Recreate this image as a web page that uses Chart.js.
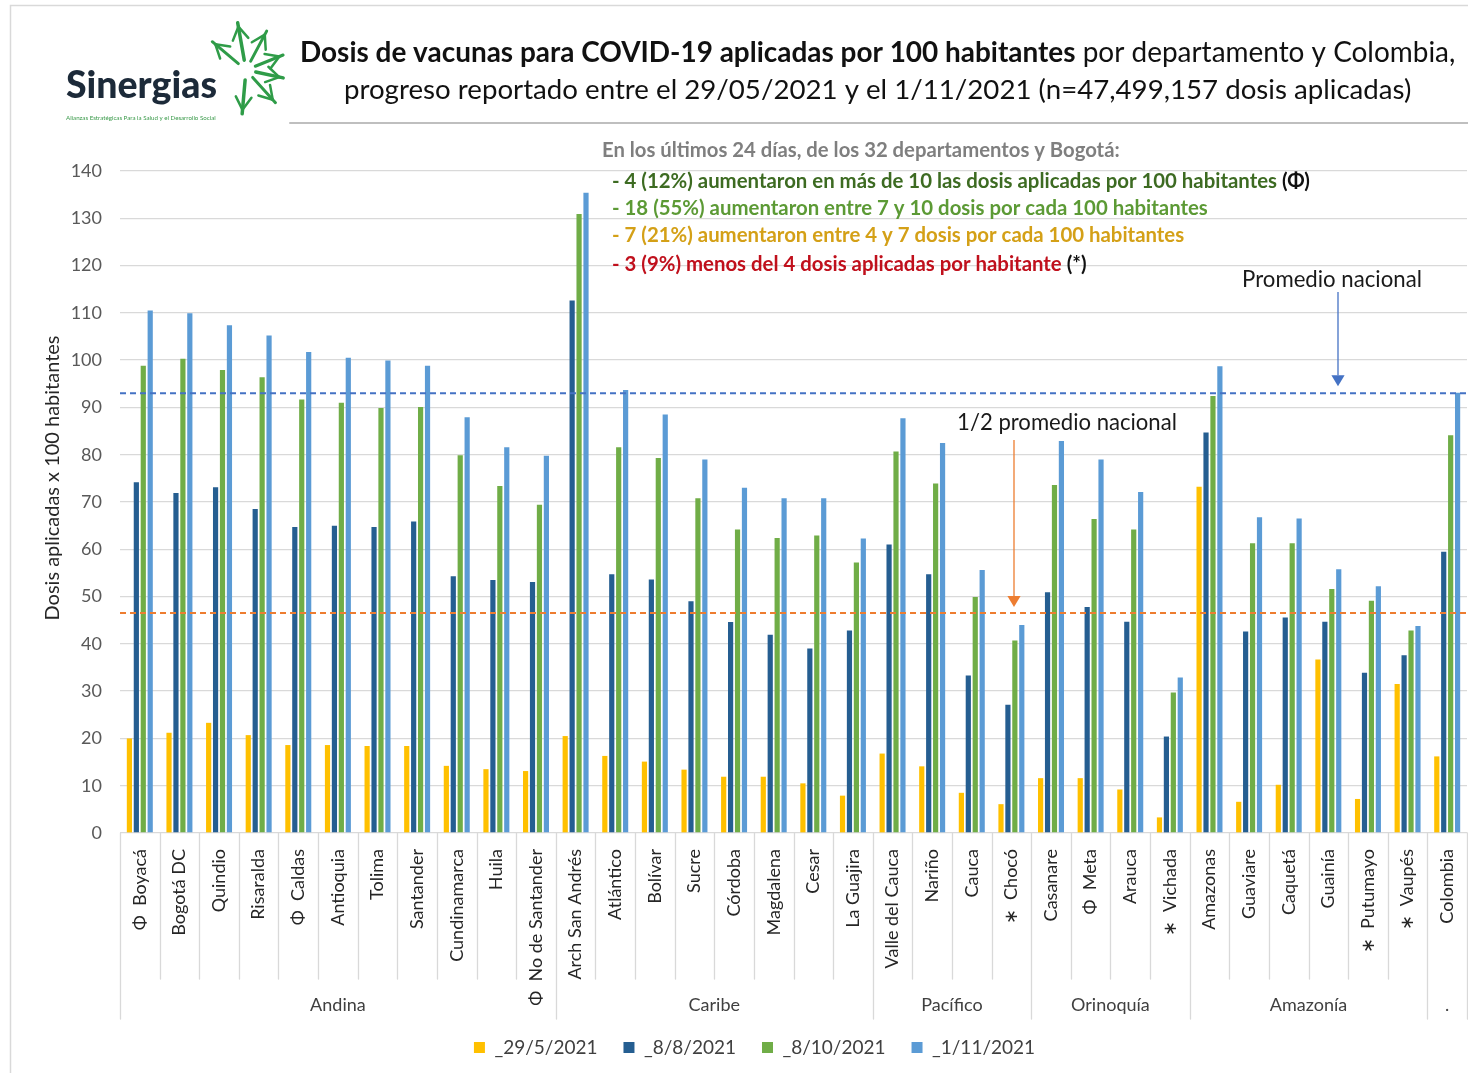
<!DOCTYPE html>
<html><head><meta charset="utf-8">
<script src="https://cdn.jsdelivr.net/npm/chart.js@4/dist/chart.umd.min.js"></script>
<style>
html,body{margin:0;padding:0;background:#fff;overflow:hidden;}
canvas{display:block;}
</style></head><body>
<canvas id="c" width="1468" height="1073"></canvas>
<script>
// ---------- DATA ----------
const categories = ['Φ  Boyacá','Bogotá DC','Quindio','Risaralda','Φ  Caldas','Antioquia','Tolima','Santander','Cundinamarca','Huila','Φ  No de Santander',
  'Arch San Andrés','Atlántico','Bolívar','Sucre','Córdoba','Magdalena','Cesar','La Guajira',
  'Valle del Cauca','Nariño','Cauca','∗  Chocó',
  'Casanare','Φ  Meta','Arauca','∗  Vichada',
  'Amazonas','Guaviare','Caquetá','Guainía','∗  Putumayo','∗  Vaupés',
  'Colombia'];
const regionNames = ['Andina','Caribe','Pacífico','Orinoquía','Amazonía','.'];
const regionSizes = [11,8,4,4,6,1];
const seriesLabels = ['_29/5/2021','_8/8/2021','_8/10/2021','_1/11/2021'];
const dosis_29_05 = [20.0,21.2,23.3,20.7,18.6,18.6,18.4,18.4,14.2,13.5,13.1, 20.5,16.3,15.1,13.4,11.9,11.9,10.5,7.9, 16.8,14.1,8.5,6.1, 11.6,11.6,9.2,3.3, 73.2,6.6,10.2,36.7,7.2,31.5, 16.2];
const dosis_08_08 = [74.2,71.9,73.1,68.5,64.7,65.0,64.7,65.9,54.3,53.5,53.1, 112.6,54.7,53.6,49.0,44.6,41.9,39.0,42.8, 61.0,54.7,33.3,27.1, 50.9,47.8,44.7,20.4, 84.7,42.6,45.6,44.7,33.9,37.6, 59.5];
const dosis_08_10 = [98.8,100.3,97.9,96.4,91.7,91.0,89.9,90.1,79.9,73.4,69.4, 130.9,81.6,79.3,70.8,64.2,62.4,62.9,57.2, 80.7,73.9,49.9,40.7, 73.6,66.4,64.2,29.7, 92.4,61.3,61.3,51.6,49.1,42.8, 84.1];
const dosis_01_11 = [110.5,109.9,107.4,105.2,101.7,100.5,99.9,98.8,87.9,81.6,79.8, 135.4,93.7,88.5,79.0,73.0,70.8,70.8,62.3, 87.7,82.5,55.6,44.0, 82.9,79.0,72.1,32.9, 98.7,66.8,66.5,55.8,52.2,43.8, 93.1];
const yMin = 0, yMax = 140, yStep = 10;
const promedioNacional = 93.0;
const mitadPromedio = 46.5;

// ---------- TEXT ----------
const titleLine1Bold = 'Dosis de vacunas para COVID-19 aplicadas por 100 habitantes';
const titleLine1Rest = ' por departamento y Colombia,';
const titleLine2 = 'progreso reportado entre el 29/05/2021 y el 1/11/2021 (n=47,499,157 dosis aplicadas)';
const noteHeader = 'En los últimos 24 días, de los 32 departamentos y Bogotá:';
const noteLines = [
  [['- 4 (12%) aumentaron en más de 10 las dosis aplicadas por 100 habitantes','#3d6b22'],[' (Φ)','#111']],
  [['- 18 (55%) aumentaron entre 7 y 10 dosis por cada 100 habitantes','#5c9a35']],
  [['- 7 (21%) aumentaron entre 4 y 7 dosis por cada 100 habitantes','#d4a017']],
  [['- 3 (9%) menos del 4 dosis aplicadas por habitante','#c0101c'],[' (*)','#111']]
];
const yTitle = 'Dosis aplicadas x 100 habitantes';

const FONT = 'Lato';
Chart.defaults.font.family = FONT;

function fitSize(ctx, parts, target) {
  let w = 0;
  for (const p of parts) { ctx.font = p.w + ' 100px ' + FONT; w += ctx.measureText(p.t).width; }
  return 100 * target / w;
}
function drawParts(ctx, parts, x, y, size) {
  for (const p of parts) {
    ctx.font = p.w + ' ' + size + 'px ' + FONT;
    ctx.fillStyle = p.c;
    ctx.fillText(p.t, x, y);
    x += ctx.measureText(p.t).width;
  }
}
function arrow(ctx, x, y1, y2, color, head) {
  ctx.save();
  ctx.strokeStyle = color; ctx.fillStyle = color; ctx.lineWidth = 1.3;
  ctx.beginPath(); ctx.moveTo(x, y1); ctx.lineTo(x, y2 - head); ctx.stroke();
  ctx.beginPath(); ctx.moveTo(x - head*0.6, y2 - head); ctx.lineTo(x + head*0.6, y2 - head); ctx.lineTo(x, y2); ctx.closePath(); ctx.fill();
  ctx.restore();
}

const decor = {
  id: 'decor',
  afterLayout(chart) {
    const lg = chart.legend;
    if (lg) { lg.left += 21; lg.right += 21; }
  },
  beforeDraw(chart) {
    const ctx = chart.ctx;
    ctx.save();
    ctx.fillStyle = '#fff'; ctx.fillRect(0, 0, chart.width, chart.height);
    ctx.strokeStyle = '#d9d9d9'; ctx.lineWidth = 1.5;
    ctx.strokeRect(10.5, 5.5, 1500, 1100);
    ctx.restore();
  },
  afterDatasetsDraw(chart) {
    const ctx = chart.ctx, ys = chart.scales.y, ca = chart.chartArea;
    ctx.save();
    ctx.lineWidth = 2;
    ctx.setLineDash([6, 4]);
    let yp = ys.getPixelForValue(promedioNacional);
    ctx.strokeStyle = '#4472c4';
    ctx.beginPath(); ctx.moveTo(ca.left, yp); ctx.lineTo(ca.right, yp); ctx.stroke();
    let yh = ys.getPixelForValue(mitadPromedio);
    ctx.strokeStyle = '#ed7d31';
    ctx.beginPath(); ctx.moveTo(ca.left, yh); ctx.lineTo(ca.right, yh); ctx.stroke();
    ctx.setLineDash([]);
    ctx.restore();
    arrow(ctx, 1338, 292, yp - 7, '#4472c4', 11);
    arrow(ctx, 1014, 440, yh - 6, '#ed7d31', 11);
    ctx.save();
    ctx.textBaseline = 'alphabetic';
    let s = fitSize(ctx, [{t:'Promedio nacional', w:'normal'}], 180);
    ctx.font = 'normal ' + s + 'px ' + FONT; ctx.fillStyle = '#1a1a1a';
    ctx.textAlign = 'center'; ctx.fillText('Promedio nacional', 1332, 287);
    s = fitSize(ctx, [{t:'1/2 promedio nacional', w:'normal'}], 220);
    ctx.font = 'normal ' + s + 'px ' + FONT;
    ctx.fillText('1/2 promedio nacional', 1067, 430);
    ctx.restore();
  },
  afterDraw(chart) {
    const ctx = chart.ctx, xs = chart.scales.x, ca = chart.chartArea;
    ctx.save();
    ctx.textBaseline = 'alphabetic'; ctx.textAlign = 'left';
    // ---- logo ----
    let s = fitSize(ctx, [{t:'Sinergias', w:'900'}], 151);
    ctx.font = '900 ' + s + 'px ' + FONT; ctx.fillStyle = '#1c2a39';
    ctx.fillText('Sinergias', 66, 98);
    s = fitSize(ctx, [{t:'Alianzas Estratégicas Para la Salud y el Desarrollo Social', w:'normal'}], 150);
    ctx.font = 'normal ' + s + 'px ' + FONT; ctx.fillStyle = '#3a9a4a';
    ctx.fillText('Alianzas Estratégicas Para la Salud y el Desarrollo Social', 66, 120);
    ctx.strokeStyle = '#2f9c48'; ctx.lineCap = 'round'; ctx.lineJoin = 'round';
    const cx = 246, cy = 70;
    const rays = [[-100,48,3.5],[-62,44,3],[-22,40,3],[12,38,3.5],[48,44,3],[95,44,3.5],[-140,44,3]];
    for (const [a, L, w] of rays) {
      const r = a * Math.PI / 180;
      const x2 = cx + Math.cos(r) * L, y2 = cy + Math.sin(r) * L;
      const x1 = cx + Math.cos(r) * 10, y1 = cy + Math.sin(r) * 10;
      ctx.lineWidth = w;
      ctx.beginPath(); ctx.moveTo(x1, y1); ctx.lineTo(x2, y2); ctx.stroke();
      const bx = cx + Math.cos(r) * (L - 4), by = cy + Math.sin(r) * (L - 4);
      for (const d of [-0.55, 0.55]) {
        ctx.lineWidth = 2.5;
        ctx.beginPath();
        ctx.moveTo(bx, by);
        ctx.lineTo(bx - Math.cos(r + d) * 15, by - Math.sin(r + d) * 15);
        ctx.stroke();
      }
    }
    // ---- title ----
    const p1 = [{t:titleLine1Bold, w:'bold', c:'#111'}, {t:titleLine1Rest, w:'normal', c:'#111'}];
    s = fitSize(ctx, p1, 1156);
    drawParts(ctx, p1, 300, 62, s);
    const p2 = [{t:titleLine2, w:'normal', c:'#111'}];
    const s2 = fitSize(ctx, p2, 1068);
    drawParts(ctx, p2, 344, 99, s2);
    ctx.strokeStyle = '#bfbfbf'; ctx.lineWidth = 2;
    ctx.beginPath(); ctx.moveTo(290, 123); ctx.lineTo(1468, 123); ctx.stroke();
    // ---- notes ----
    const ph = [{t:noteHeader, w:'bold', c:'#7f7f7f'}];
    s = fitSize(ctx, ph, 518);
    drawParts(ctx, ph, 602, 157, s);
    const l1 = noteLines[0].map(([t,c]) => ({t, c, w:'bold'}));
    const ns = fitSize(ctx, l1, 698);
    const base = [188, 215, 242, 271];
    noteLines.forEach((ln, i) => drawParts(ctx, ln.map(([t,c]) => ({t, c, w:'bold'})), 612, base[i], ns));
    // ---- y title ----
    s = fitSize(ctx, [{t:yTitle, w:'normal'}], 285);
    ctx.save();
    ctx.translate(59, 478); ctx.rotate(-Math.PI/2);
    ctx.textAlign = 'center'; ctx.font = 'normal ' + s + 'px ' + FONT; ctx.fillStyle = '#262626';
    ctx.fillText(yTitle, 0, 0);
    ctx.restore();
    // ---- category separators & region groups ----
    const n = categories.length;
    const bx = i => i === 0 ? xs.left : (i === n ? xs.right : (xs.getPixelForValue(i - 1) + xs.getPixelForValue(i)) / 2);
    const groupEdges = new Set([0]);
    let acc = 0; regionSizes.forEach(k => { acc += k; groupEdges.add(acc); });
    ctx.strokeStyle = '#d9d9d9'; ctx.lineWidth = 1.3;
    const top = ca.bottom;
    for (let i = 0; i <= n; i++) {
      const x = Math.round(bx(i)) + 0.5;
      ctx.beginPath(); ctx.moveTo(x, top); ctx.lineTo(x, groupEdges.has(i) ? top + 186 : top + 146); ctx.stroke();
    }
    ctx.font = 'normal 18px ' + FONT; ctx.fillStyle = '#404040'; ctx.textAlign = 'center';
    acc = 0;
    regionNames.forEach((name, k) => {
      const a = bx(acc), b = bx(acc + regionSizes[k]);
      ctx.fillText(name, (a + b) / 2, top + 178);
      acc += regionSizes[k];
    });
    ctx.restore();
  }
};

new Chart(document.getElementById('c'), {
  type: 'bar',
  data: {
    labels: categories,
    datasets: [
      {label: seriesLabels[0], data: dosis_29_05, backgroundColor: '#ffc000'},
      {label: seriesLabels[1], data: dosis_08_08, backgroundColor: '#255e91'},
      {label: seriesLabels[2], data: dosis_08_10, backgroundColor: '#70ad47'},
      {label: seriesLabels[3], data: dosis_01_11, backgroundColor: '#5b9bd5'}
    ]
  },
  options: {
    responsive: false,
    devicePixelRatio: 1,
    animation: false,
    layout: {padding: {left: 0, right: 1, top: 171, bottom: 6}},
    datasets: {bar: {categoryPercentage: 0.7, barPercentage: 0.75}},
    plugins: {
      legend: {
        position: 'bottom',
        labels: {font: {size: 19, family: FONT}, color: '#404040', boxWidth: 11, boxHeight: 11, padding: 26}
      },
      tooltip: {enabled: false},
      title: {display: false}
    },
    scales: {
      x: {
        grid: {display: false},
        border: {display: false},
        ticks: {autoSkip: false, minRotation: 90, maxRotation: 90, padding: 8, color: '#262626', font: {size: 18, family: FONT}},
        afterFit(s) { s.height = 179; s.paddingLeft = 0; s.paddingRight = 0; }
      },
      y: {
        min: yMin, max: yMax,
        grid: {color: '#d9d9d9', lineWidth: 1.3, drawTicks: false},
        border: {display: false},
        ticks: {stepSize: yStep, padding: 18, color: '#595959', font: {size: 18, family: FONT}},
        afterFit(s) { s.width = 120; }
      }
    }
  },
  plugins: [decor]
});
</script>
</body></html>
